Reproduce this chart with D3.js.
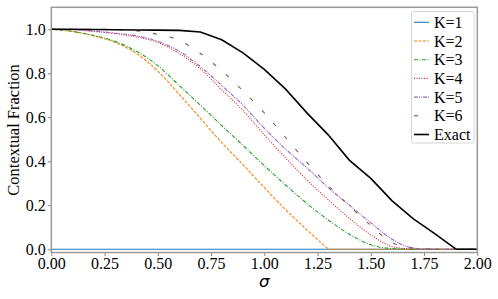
<!DOCTYPE html>
<html>
<head>
<meta charset="utf-8">
<script src="https://cdn.jsdelivr.net/npm/d3@7"></script>
<style>
  body { margin: 0; background: #fff; }
  svg text { font-family: "Liberation Serif", "Times New Roman", serif; }
</style>
</head>
<body>
<div id="chart"></div>
<script>
var width = 498,
  height = 299;

// sigma grid (step 0.1)
var sigma = [0, 0.1, 0.2, 0.3, 0.4, 0.5, 0.6, 0.7, 0.8, 0.9, 1.0, 1.1, 1.2, 1.3, 1.4, 1.5, 1.6, 1.7, 1.8, 1.9, 2.0];

var k1 = [0, 0, 0, 0, 0, 0, 0, 0, 0, 0, 0, 0, 0, 0, 0, 0, 0, 0, 0, 0, 0];
var k2 = [1.0, 0.99, 0.97, 0.94, 0.89, 0.81, 0.705, 0.595, 0.485, 0.385, 0.28, 0.18, 0.088, 0, 0, 0, 0, 0, 0, 0, 0];
var k3 = [1.0, 0.99, 0.972, 0.945, 0.9, 0.835, 0.745, 0.655, 0.562, 0.472, 0.38, 0.292, 0.208, 0.133, 0.068, 0.02, 0.003, 0, 0, 0, 0];
var k4 = [1.0, 0.998, 0.99, 0.98, 0.965, 0.94, 0.89, 0.82, 0.725, 0.63, 0.52, 0.415, 0.315, 0.225, 0.14, 0.065, 0.012, 0, 0, 0, 0];
var k5 = [1.0, 0.998, 0.992, 0.982, 0.97, 0.945, 0.9, 0.83, 0.745, 0.655, 0.55, 0.455, 0.37, 0.28, 0.2, 0.12, 0.045, 0.005, 0, 0, 0];
var k6 = [1.0, 1.0, 1.0, 0.999, 0.993, 0.977, 0.95, 0.89, 0.812, 0.72, 0.62, 0.508, 0.395, 0.29, 0.196, 0.108, 0.03, 0.005, 0, 0, 0];
var exact = [1.0, 1.0, 0.999, 0.998, 0.997, 0.996, 0.995, 0.988, 0.952, 0.893, 0.818, 0.728, 0.62, 0.52, 0.404, 0.322, 0.22, 0.138, 0.071, 0.0, 0.0];

var xTicks = [0, 0.25, 0.5, 0.75, 1.0, 1.25, 1.5, 1.75, 2.0];
var yTicks = [0, 0.2, 0.4, 0.6, 0.8, 1.0];

var series = [
  { name: "K=1", values: k1, color: "#1f77b4", dash: null, curve: d3.curveLinear },
  { name: "K=2", values: k2, color: "#ff7f0e", dash: "3,1.5", curve: d3.curveMonotoneX },
  { name: "K=3", values: k3, color: "#2ca02c", dash: "4,1.5,1,1.5", curve: d3.curveMonotoneX },
  { name: "K=4", values: k4, color: "#d62728", dash: "1,1.5", curve: d3.curveMonotoneX },
  { name: "K=5", values: k5, color: "#9467bd", dash: "4,1,1,1,1,1", curve: d3.curveMonotoneX },
  { name: "K=6", values: k6, color: "#8c564b", dash: "4,13", curve: d3.curveMonotoneX },
  { name: "Exact", values: exact, color: "#000000", dash: null, curve: d3.curveLinear }
];

var margin = { left: 51.3, right: 498 - 477.3, top: 7.3, bottom: 299 - 252.5 };

var x = d3.scaleLinear()
  .domain([0, 2])
  .range([margin.left, width - margin.right]);

var y = d3.scaleLinear()
  .domain([-0.015, 1.1])
  .range([height - margin.bottom, margin.top]);

var svg = d3.select("#chart")
  .append("svg")
  .attr("width", width)
  .attr("height", height);

// clip to axes area
svg.append("clipPath")
  .attr("id", "clip")
  .append("rect")
  .attr("x", x(0))
  .attr("y", y(1.1))
  .attr("width", x(2) - x(0))
  .attr("height", y(-0.015) - y(1.1));

var line = d3.line()
  .x(function (d) { return x(d[0]); })
  .y(function (d) { return y(d[1]); });

var lines = svg.append("g").attr("clip-path", "url(#clip)");

series.forEach(function (s) {
  var pts = sigma.map(function (v, i) { return [v, s.values[i]]; });
  // smooth part up to the first zero, then a straight tail on zero
  var z = s.values.indexOf(0);
  if (z <= 0) z = pts.length - 1;
  var g = lines.append("g")
    .attr("fill", "none")
    .attr("stroke", s.color)
    .attr("stroke-width", s.name == "Exact" ? 1.6 : 1.1)
    .attr("stroke-dasharray", s.dash);
  g.append("path").attr("d", line.curve(s.curve)(pts.slice(0, z + 1)));
  g.append("path").attr("d", line.curve(d3.curveLinear)(pts.slice(z)));
});

// axes
var xAxis = svg.append("g")
  .attr("transform", "translate(0," + (height - margin.bottom) + ")")
  .call(d3.axisBottom(x).tickValues(xTicks).tickFormat(d3.format(".2f")).tickSize(3.5).tickPadding(2));

var yAxis = svg.append("g")
  .attr("transform", "translate(" + margin.left + ",0)")
  .call(d3.axisLeft(y).tickValues(yTicks).tickFormat(d3.format(".1f")).tickSize(3.5).tickPadding(2));

[xAxis, yAxis].forEach(function (a) {
  a.select(".domain").remove();
  a.selectAll(".tick line").attr("stroke", "#888").attr("stroke-width", 1);
  a.selectAll(".tick text")
    .attr("fill", "#000")
    .style("font-family", "Liberation Serif")
    .style("font-size", "16px");
});

// frame
svg.append("rect")
  .attr("x", x(0))
  .attr("y", y(1.1))
  .attr("width", x(2) - x(0))
  .attr("height", y(-0.015) - y(1.1))
  .attr("fill", "none")
  .attr("stroke", "#999")
  .attr("stroke-width", 1.5);

// axis labels
svg.append("text")
  .attr("x", (x(0) + x(2)) / 2)
  .attr("y", 287)
  .attr("text-anchor", "middle")
  .style("font-family", "DejaVu Sans")
  .style("font-style", "italic")
  .style("font-size", "16.5px")
  .text("σ");

svg.append("text")
  .attr("transform", "translate(13," + ((y(1.1) + y(-0.015)) / 2) + ")rotate(-90)")
  .attr("text-anchor", "middle")
  .attr("dy", "0.35em")
  .style("font-size", "16.5px")
  .text("Contextual Fraction");

// legend
var legend = svg.append("g");

legend.append("rect")
  .attr("x", 411.5)
  .attr("y", 11.5)
  .attr("width", 62.5)
  .attr("height", 131.5)
  .attr("rx", 2)
  .attr("fill", "#fff")
  .attr("fill-opacity", 0.8)
  .attr("stroke", "#ccc")
  .attr("stroke-width", 0.8);

series.forEach(function (s, i) {
  var ly = 22.3 + i * 18.7;
  legend.append("line")
    .attr("x1", 414)
    .attr("x2", 429)
    .attr("y1", ly)
    .attr("y2", ly)
    .attr("stroke", s.color)
    .attr("stroke-width", s.name == "Exact" ? 1.6 : 1.1)
    .attr("stroke-dasharray", s.dash);
  legend.append("text")
    .attr("x", 434)
    .attr("y", ly + 5.5)
    .style("font-size", "16px")
    .text(s.name);
});
</script>
</body>
</html>
